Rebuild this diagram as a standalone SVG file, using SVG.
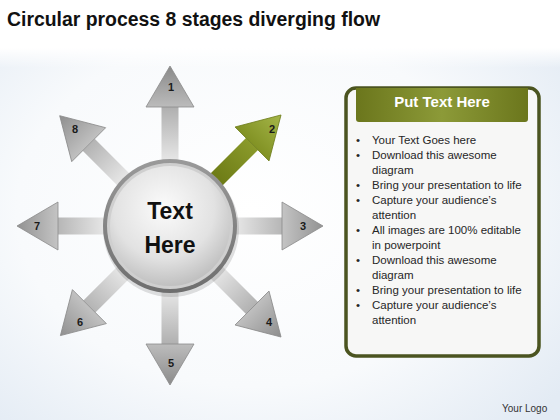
<svg xmlns="http://www.w3.org/2000/svg" width="560" height="420" viewBox="0 0 560 420">
<defs>
<radialGradient id="bg" cx="0.45" cy="0.5" r="0.7">
<stop offset="0" stop-color="#ffffff"/>
<stop offset="0.6" stop-color="#f8fafc"/>
<stop offset="1" stop-color="#e3ebf4"/>
</radialGradient>
<linearGradient id="bgTop" x1="0" y1="0" x2="0" y2="1">
<stop offset="0" stop-color="#ffffff"/>
<stop offset="1" stop-color="#ffffff" stop-opacity="0"/>
</linearGradient>
<linearGradient id="shaftG" gradientUnits="userSpaceOnUse" x1="0" y1="-60" x2="0" y2="-125">
<stop offset="0" stop-color="#ececec"/>
<stop offset="1" stop-color="#a9a9a9"/>
</linearGradient>
<linearGradient id="headG" gradientUnits="userSpaceOnUse" x1="0" y1="-112" x2="0" y2="-158">
<stop offset="0" stop-color="#c4c4c4"/>
<stop offset="1" stop-color="#8c8c8c"/>
</linearGradient>
<linearGradient id="shaftGreen" gradientUnits="userSpaceOnUse" x1="0" y1="-60" x2="0" y2="-125">
<stop offset="0" stop-color="#6a7814"/>
<stop offset="1" stop-color="#8f9f2e"/>
</linearGradient>
<linearGradient id="headGreen" gradientUnits="userSpaceOnUse" x1="0" y1="-112" x2="0" y2="-158">
<stop offset="0" stop-color="#7e8e20"/>
<stop offset="1" stop-color="#a6b74a"/>
</linearGradient>
<radialGradient id="core" cx="0.45" cy="0.35" r="0.7">
<stop offset="0" stop-color="#fbfbfb"/>
<stop offset="0.6" stop-color="#e2e2e2"/>
<stop offset="1" stop-color="#b9b9b9"/>
</radialGradient>
<linearGradient id="ring" x1="0" y1="0" x2="0" y2="1">
<stop offset="0" stop-color="#9a9a9a"/>
<stop offset="1" stop-color="#6e6e6e"/>
</linearGradient>
<linearGradient id="hdr" x1="0" y1="0" x2="1" y2="0">
<stop offset="0" stop-color="#6b761c"/>
<stop offset="0.5" stop-color="#8c9a38"/>
<stop offset="1" stop-color="#6b761c"/>
</linearGradient>
</defs>
<style>
.num{font-family:"Liberation Sans",Arial,sans-serif;font-weight:bold;font-size:11px;fill:#1a1a1a;text-anchor:middle}
.sh{fill:url(#shaftG)}
.hd{fill:url(#headG);stroke:#8a8a8a;stroke-width:0.8}
.li{font-family:"Liberation Sans",Arial,sans-serif;font-size:11.5px;fill:#262626}
</style>
<rect x="0" y="0" width="560" height="420" fill="url(#bg)"/>
<rect x="0" y="0" width="560" height="48" fill="#ffffff"/>
<rect x="0" y="48" width="560" height="20" fill="url(#bgTop)"/>
<text x="7" y="26" font-family="'Liberation Sans',Arial,sans-serif" font-weight="bold" font-size="19.5" fill="#111" textLength="373" lengthAdjust="spacingAndGlyphs">Circular process 8 stages diverging flow</text>

<g id="arrow1" transform="translate(170,226)">
<path class="sh" d="M-8.5,0 V-119 H8.5 V0 Z"/>
<path class="hd" d="M-24,-119 L0,-160 L24,-119 Z"/>
</g>
<g id="arrow3" transform="translate(170,226) rotate(90)">
<path class="sh" d="M-8.5,0 V-112 H8.5 V0 Z"/>
<path class="hd" d="M-24,-112 L0,-153 L24,-112 Z"/>
</g>
<g id="arrow5" transform="translate(170,226) rotate(180)">
<path class="sh" d="M-8.5,0 V-118 H8.5 V0 Z"/>
<path class="hd" d="M-24,-118 L0,-159 L24,-118 Z"/>
</g>
<g id="arrow7" transform="translate(170,226) rotate(270)">
<path class="sh" d="M-8.5,0 V-112 H8.5 V0 Z"/>
<path class="hd" d="M-24,-112 L0,-153 L24,-112 Z"/>
</g>
<g id="arrow4" transform="translate(170,226) rotate(135)">
<path class="sh" d="M-8.5,0 V-116 H8.5 V0 Z"/>
<path class="hd" d="M-24,-116 L0,-157 L24,-116 Z"/>
</g>
<g id="arrow6" transform="translate(170,226) rotate(225)">
<path class="sh" d="M-8.5,0 V-114 H8.5 V0 Z"/>
<path class="hd" d="M-24,-114 L0,-155 L24,-114 Z"/>
</g>
<g id="arrow8" transform="translate(170,226) rotate(315)">
<path class="sh" d="M-8.5,0 V-115 H8.5 V0 Z"/>
<path class="hd" d="M-24,-115 L0,-156 L24,-115 Z"/>
</g>
<g id="arrow2" transform="translate(170,226) rotate(45)">
<path fill="url(#shaftGreen)" d="M-8.5,0 V-116 H8.5 V0 Z"/>
<path fill="url(#headGreen)" stroke="#6f7e1c" stroke-width="0.8" d="M-24,-116 L0,-157 L24,-116 Z"/>
</g>

<g id="center">
<circle cx="171" cy="229" r="68" fill="#000" opacity="0.12"/>
<circle cx="170" cy="226" r="67" fill="url(#ring)"/>
<circle cx="170" cy="226" r="63" fill="#cfcfcf"/>
<circle cx="170" cy="226" r="60" fill="url(#core)"/>
<text x="170" y="219" text-anchor="middle" font-family="'Liberation Sans',Arial,sans-serif" font-weight="bold" font-size="23" fill="#111">Text</text>
<text x="170" y="253" text-anchor="middle" font-family="'Liberation Sans',Arial,sans-serif" font-weight="bold" font-size="23" fill="#111">Here</text>
</g>

<g id="labels">
<text class="num" x="171" y="91">1</text>
<text class="num" x="272" y="133">2</text>
<text class="num" x="303" y="230">3</text>
<text class="num" x="269" y="326">4</text>
<text class="num" x="171" y="367">5</text>
<text class="num" x="80" y="326">6</text>
<text class="num" x="37" y="230">7</text>
<text class="num" x="75" y="133">8</text>
</g>

<g id="panel">
<rect x="346" y="88" width="193" height="268" rx="10" fill="#f7f7f6" stroke="#4b5420" stroke-width="3.5"/>
<path d="M356,88 H528 V119 Q528,122 525,122 H359 Q356,122 356,119 Z" fill="url(#hdr)"/>
<text x="442" y="107" text-anchor="middle" font-family="'Liberation Sans',Arial,sans-serif" font-weight="bold" font-size="15" fill="#ffffff">Put Text Here</text>
<g class="li">
<text x="356" y="144">•</text><text x="372" y="144">Your Text Goes here</text>
<text x="356" y="159">•</text><text x="372" y="159">Download this awesome</text>
<text x="372" y="174">diagram</text>
<text x="356" y="189">•</text><text x="372" y="189">Bring your presentation to life</text>
<text x="356" y="204">•</text><text x="372" y="204">Capture your audience’s</text>
<text x="372" y="219">attention</text>
<text x="356" y="234">•</text><text x="372" y="234">All images are 100% editable</text>
<text x="372" y="249">in powerpoint</text>
<text x="356" y="264">•</text><text x="372" y="264">Download this awesome</text>
<text x="372" y="279">diagram</text>
<text x="356" y="294">•</text><text x="372" y="294">Bring your presentation to life</text>
<text x="356" y="309">•</text><text x="372" y="309">Capture your audience’s</text>
<text x="372" y="324">attention</text>
</g>
</g>
<text x="502" y="412" font-family="'Liberation Sans',Arial,sans-serif" font-size="10" fill="#333">Your Logo</text>
</svg>
